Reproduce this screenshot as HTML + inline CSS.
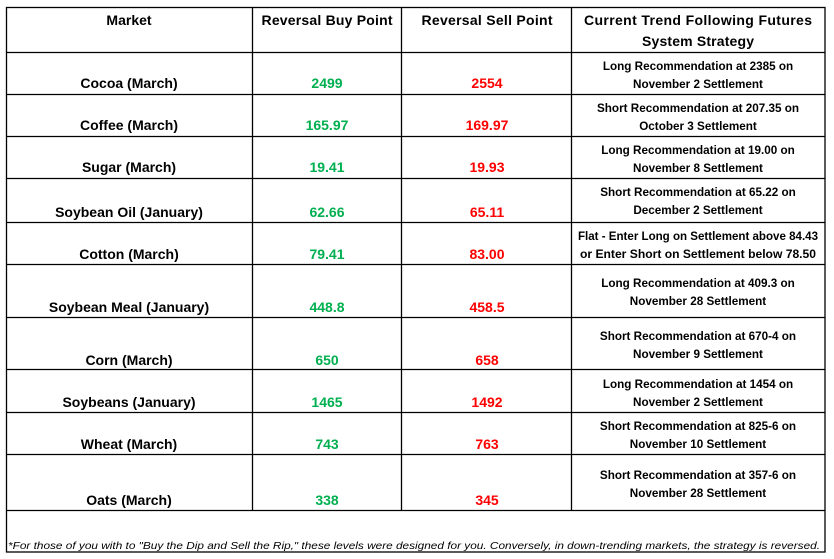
<!DOCTYPE html>
<html><head><meta charset="utf-8"><style>
html,body{margin:0;padding:0;background:#fff;}
svg{display:block;}
text{font-family:"Liberation Sans",Arial,sans-serif;font-weight:bold;}
.h{font-size:14px;fill:#000;}
.m{font-size:14px;fill:#000;}
.g{font-size:14px;fill:#00b050;}
.r{font-size:14px;fill:#ff0000;}
.s{font-size:11.7px;fill:#000;}
.f{font-size:10.5px;font-weight:normal;font-style:italic;fill:#000;}
</style></head><body>
<svg width="834" height="559" viewBox="0 0 834 559">
<rect x="0" y="0" width="834" height="559" fill="#fff"/>
<g stroke="#000" stroke-width="1.3">
<rect x="6.5" y="7.5" width="818.5" height="544.5" fill="none"/>
<line x1="252.5" y1="7" x2="252.5" y2="510"/>
<line x1="401.5" y1="7" x2="401.5" y2="510"/>
<line x1="571.5" y1="7" x2="571.5" y2="510"/>
<line x1="6" y1="52.5" x2="825" y2="52.5"/>
<line x1="6" y1="94.5" x2="825" y2="94.5"/>
<line x1="6" y1="136.5" x2="825" y2="136.5"/>
<line x1="6" y1="178.5" x2="825" y2="178.5"/>
<line x1="6" y1="222.5" x2="825" y2="222.5"/>
<line x1="6" y1="264.5" x2="825" y2="264.5"/>
<line x1="6" y1="317.5" x2="825" y2="317.5"/>
<line x1="6" y1="369.5" x2="825" y2="369.5"/>
<line x1="6" y1="412.5" x2="825" y2="412.5"/>
<line x1="6" y1="454.5" x2="825" y2="454.5"/>
<line x1="6" y1="510.5" x2="825" y2="510.5"/>
</g>
<g text-anchor="middle">
<text class="h" x="129" y="25">Market</text>
<text class="h" x="327" y="25" textLength="131">Reversal Buy Point</text>
<text class="h" x="487" y="25" textLength="131">Reversal Sell Point</text>
<text class="h" x="698" y="25" textLength="228">Current Trend Following Futures</text>
<text class="h" x="698" y="46" textLength="112">System Strategy</text>
</g>
<g text-anchor="middle">
<g>
<text class="m" x="129" y="88">Cocoa (March)</text><text class="g" x="327" y="88">2499</text><text class="r" x="487" y="88">2554</text>
<text class="s" x="698" y="70">Long Recommendation at 2385 on</text><text class="s" x="698" y="88">November 2 Settlement</text></g>
<g>
<text class="m" x="129" y="130">Coffee (March)</text><text class="g" x="327" y="130">165.97</text><text class="r" x="487" y="130">169.97</text>
<text class="s" x="698" y="112">Short Recommendation at 207.35 on</text><text class="s" x="698" y="130">October 3 Settlement</text></g>
<g>
<text class="m" x="129" y="172">Sugar (March)</text><text class="g" x="327" y="172">19.41</text><text class="r" x="487" y="172">19.93</text>
<text class="s" x="698" y="154">Long Recommendation at 19.00 on</text><text class="s" x="698" y="172">November 8 Settlement</text></g>
<g>
<text class="m" x="129" y="217">Soybean Oil (January)</text><text class="g" x="327" y="217">62.66</text><text class="r" x="487" y="217">65.11</text>
<text class="s" x="698" y="196">Short Recommendation at 65.22 on</text><text class="s" x="698" y="214">December 2 Settlement</text></g>
<g>
<text class="m" x="129" y="259">Cotton (March)</text><text class="g" x="327" y="259">79.41</text><text class="r" x="487" y="259">83.00</text>
<text class="s" x="698" y="240" textLength="240" lengthAdjust="spacingAndGlyphs">Flat - Enter Long on Settlement above 84.43</text><text class="s" x="698" y="258" textLength="236" lengthAdjust="spacingAndGlyphs">or Enter Short on Settlement below 78.50</text></g>
<g>
<text class="m" x="129" y="312">Soybean Meal (January)</text><text class="g" x="327" y="312">448.8</text><text class="r" x="487" y="312">458.5</text>
<text class="s" x="698" y="287">Long Recommendation at 409.3 on</text><text class="s" x="698" y="305">November 28 Settlement</text></g>
<g>
<text class="m" x="129" y="365">Corn (March)</text><text class="g" x="327" y="365">650</text><text class="r" x="487" y="365">658</text>
<text class="s" x="698" y="340">Short Recommendation at 670-4 on</text><text class="s" x="698" y="358">November 9 Settlement</text></g>
<g>
<text class="m" x="129" y="407">Soybeans (January)</text><text class="g" x="327" y="407">1465</text><text class="r" x="487" y="407">1492</text>
<text class="s" x="698" y="388">Long Recommendation at 1454 on</text><text class="s" x="698" y="406">November 2 Settlement</text></g>
<g>
<text class="m" x="129" y="449">Wheat (March)</text><text class="g" x="327" y="449">743</text><text class="r" x="487" y="449">763</text>
<text class="s" x="698" y="430">Short Recommendation at 825-6 on</text><text class="s" x="698" y="448">November 10 Settlement</text></g>
<g>
<text class="m" x="129" y="505">Oats (March)</text><text class="g" x="327" y="505">338</text><text class="r" x="487" y="505">345</text>
<text class="s" x="698" y="479">Short Recommendation at 357-6 on</text><text class="s" x="698" y="497">November 28 Settlement</text></g>
</g>
<text class="f" x="8" y="549" textLength="812" lengthAdjust="spacingAndGlyphs">*For those of you with to "Buy the Dip and Sell the Rip," these levels were designed for you. Conversely, in down-trending markets, the strategy is reversed.</text>
</svg>
</body></html>
